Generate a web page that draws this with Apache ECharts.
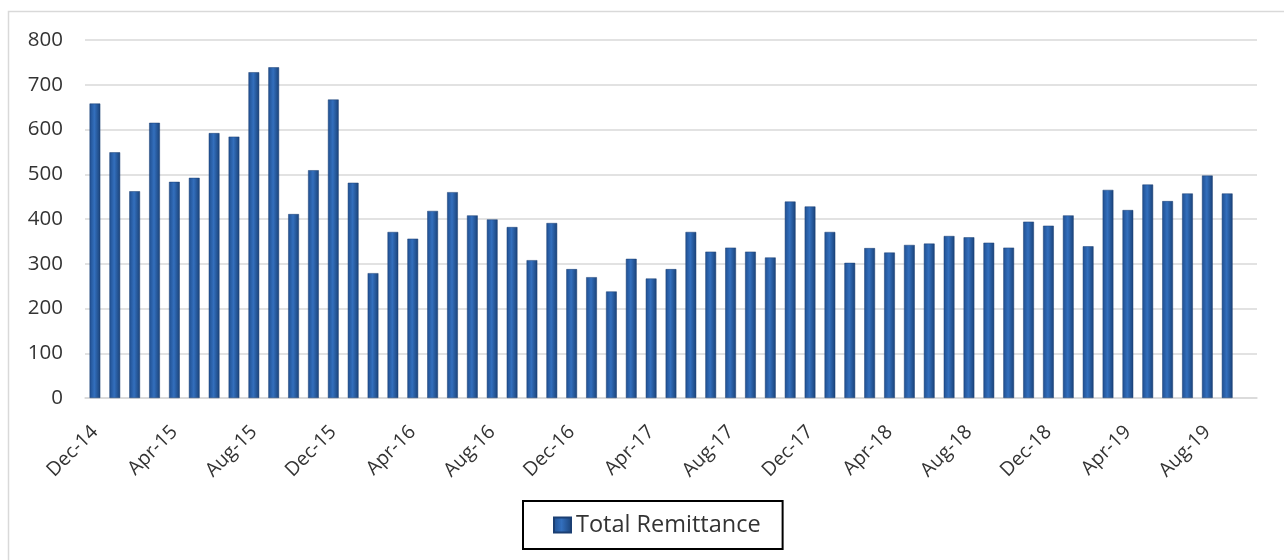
<!DOCTYPE html>
<html>
<head>
<meta charset="utf-8">
<script src="https://cdn.jsdelivr.net/npm/echarts@6/dist/echarts.min.js"></script>
<style>
  html, body { margin: 0; padding: 0; background: #fff; }
  #chart { width: 1284px; height: 560px; }
</style>
</head>
<body>
<div id="chart"></div>
<script>
// monthly remittance, Dec-14 .. Sep-19 (last slot is empty in the original)
var months = ['Dec-14','Jan-15','Feb-15','Mar-15','Apr-15','May-15','Jun-15','Jul-15','Aug-15','Sep-15','Oct-15','Nov-15',
  'Dec-15','Jan-16','Feb-16','Mar-16','Apr-16','May-16','Jun-16','Jul-16','Aug-16','Sep-16','Oct-16','Nov-16',
  'Dec-16','Jan-17','Feb-17','Mar-17','Apr-17','May-17','Jun-17','Jul-17','Aug-17','Sep-17','Oct-17','Nov-17',
  'Dec-17','Jan-18','Feb-18','Mar-18','Apr-18','May-18','Jun-18','Jul-18','Aug-18','Sep-18','Oct-18','Nov-18',
  'Dec-18','Jan-19','Feb-19','Mar-19','Apr-19','May-19','Jun-19','Jul-19','Aug-19','Sep-19','Oct-19'];
var remittance = [658, 549, 462, 615, 483, 492, 592, 584, 728, 739, 411, 509,
  667, 481, 279, 371, 356, 418, 460, 408, 399, 382, 308, 391,
  288, 270, 238, 311, 267, 288, 371, 327, 336, 327, 314, 439,
  428, 371, 302, 335, 325, 342, 345, 362, 359, 347, 336, 394,
  385, 408, 339, 465, 420, 477, 440, 457, 497, 457, '-'];
var yTicks = { min: 0, max: 800, step: 100 };

var fnt = 'Open Sans';
var barColor = new echarts.graphic.LinearGradient(0, 0, 1, 0, [
  { offset: 0, color: '#204f90' },
  { offset: 0.45, color: '#336fbd' },
  { offset: 1, color: '#1a4278' }
]);

var myChart = echarts.init(document.getElementById('chart'));
myChart.setOption({
  animation: false,
  graphic: [{
    type: 'rect',
    shape: { x: 8.5, y: 11.5, width: 1290, height: 560 },
    style: { fill: 'none', stroke: '#d9d9d9', lineWidth: 1.5 },
    silent: true
  }],
  grid: { left: 85, right: 27, top: 40, bottom: 162 },
  legend: {
    left: 523,
    top: 501,
    padding: [12, 22, 12, 30],
    borderColor: '#000',
    borderWidth: 2,
    itemWidth: 17,
    itemHeight: 15,
    itemGap: 6,
    icon: 'rect',
    textStyle: { fontFamily: fnt, fontSize: 23.5, color: '#333' },
    data: ['Total Remittance']
  },
  xAxis: {
    type: 'category',
    data: months,
    axisLine: { lineStyle: { color: '#d9d9d9', width: 1.5 } },
    axisTick: { interval: 3, length: 6, lineStyle: { color: '#d9d9d9', width: 1.5 } },
    axisLabel: {
      interval: 3,
      rotate: 45,
      margin: 31,
      fontFamily: fnt,
      fontSize: 19.5,
      color: '#333'
    },
    splitLine: { show: false }
  },
  yAxis: {
    type: 'value',
    min: yTicks.min,
    max: yTicks.max,
    interval: yTicks.step,
    axisLine: { show: false },
    axisTick: { show: false },
    axisLabel: { margin: 22, fontFamily: fnt, fontSize: 20.5, color: '#333' },
    splitLine: { lineStyle: { color: '#d9d9d9', width: 1.5 } }
  },
  series: [{
    name: 'Total Remittance',
    type: 'bar',
    barWidth: '54%',
    itemStyle: { color: barColor, borderColor: '#1b3f73', borderWidth: 0.5 },
    data: remittance
  }]
});
</script>
</body>
</html>
